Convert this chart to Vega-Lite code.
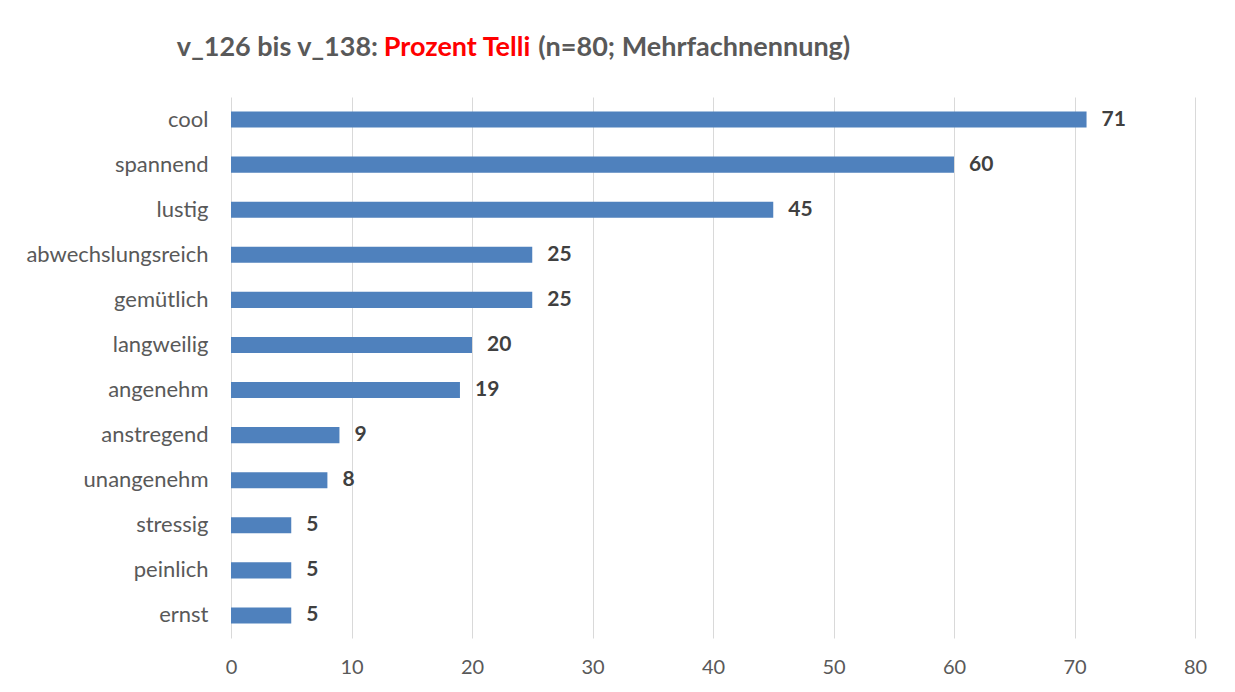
{
  "$schema": "https://vega.github.io/schema/vega-lite/v6.json",
  "width": 964,
  "height": 541,
  "autosize": {"type": "none"},
  "padding": {"left": 231, "top": 97, "right": 40, "bottom": 54},
  "background": "white",
  "config": {
    "view": {"stroke": null},
    "font": "Lato"
  },
  "data": {
    "values": [
      {"label": "cool", "value": 71},
      {"label": "spannend", "value": 60},
      {"label": "lustig", "value": 45},
      {"label": "abwechslungsreich", "value": 25},
      {"label": "gemütlich", "value": 25},
      {"label": "langweilig", "value": 20},
      {"label": "angenehm", "value": 19},
      {"label": "anstregend", "value": 9},
      {"label": "unangenehm", "value": 8},
      {"label": "stressig", "value": 5},
      {"label": "peinlich", "value": 5},
      {"label": "ernst", "value": 5}
    ]
  },
  "encoding": {
    "y": {
      "field": "label",
      "type": "nominal",
      "sort": ["cool", "spannend", "lustig", "abwechslungsreich", "gemütlich", "langweilig", "angenehm", "anstregend", "unangenehm", "stressig", "peinlich", "ernst"],
      "scale": {"paddingInner": 0.645, "paddingOuter": 0.3225},
      "axis": {
        "title": null,
        "domain": false,
        "ticks": false,
        "grid": false,
        "labelFont": "Lato",
        "labelFontSize": 22,
        "labelColor": "#595959",
        "labelPadding": 23,
        "labelLimit": 300
      }
    }
  },
  "layer": [
    {
      "mark": {"type": "bar", "color": "#4F81BD"},
      "encoding": {
        "x": {
          "field": "value",
          "type": "quantitative",
          "scale": {"domain": [0, 80], "nice": false},
          "axis": {
            "title": null,
            "values": [0, 10, 20, 30, 40, 50, 60, 70, 80],
            "domain": false,
            "ticks": false,
            "grid": true,
            "gridColor": "#D9D9D9",
            "gridWidth": 1,
            "labelFont": "Lato",
            "labelFontSize": 20,
            "labelColor": "#595959",
            "labelPadding": 19,
            "labelFlush": false
          }
        }
      }
    },
    {
      "mark": {"type": "text", "align": "left", "baseline": "middle", "dx": 15, "fontWeight": "bold", "fontSize": 21, "color": "#404040", "font": "Lato"},
      "encoding": {
        "x": {"field": "value", "type": "quantitative"},
        "text": {"field": "value", "type": "quantitative"}
      }
    },
    {
      "data": {"values": [{"t": "v_126 bis v_138:"}]},
      "mark": {"type": "text", "align": "right", "baseline": "middle", "fontWeight": "bold", "fontSize": 27, "color": "#595959", "font": "Lato"},
      "encoding": {
        "x": {"datum": 12.2, "type": "quantitative"},
        "y": {"value": -49},
        "text": {"field": "t"}
      }
    },
    {
      "data": {"values": [{"t": "Prozent Telli"}]},
      "mark": {"type": "text", "align": "center", "baseline": "middle", "fontWeight": "bold", "fontSize": 27, "color": "#FF0000", "font": "Lato"},
      "encoding": {
        "x": {"datum": 18.76, "type": "quantitative"},
        "y": {"value": -49},
        "text": {"field": "t"}
      }
    },
    {
      "data": {"values": [{"t": "(n=80; Mehrfachnennung)"}]},
      "mark": {"type": "text", "align": "left", "baseline": "middle", "fontWeight": "bold", "fontSize": 27, "color": "#595959", "font": "Lato"},
      "encoding": {
        "x": {"datum": 25.5, "type": "quantitative"},
        "y": {"value": -49},
        "text": {"field": "t"}
      }
    }
  ]
}
